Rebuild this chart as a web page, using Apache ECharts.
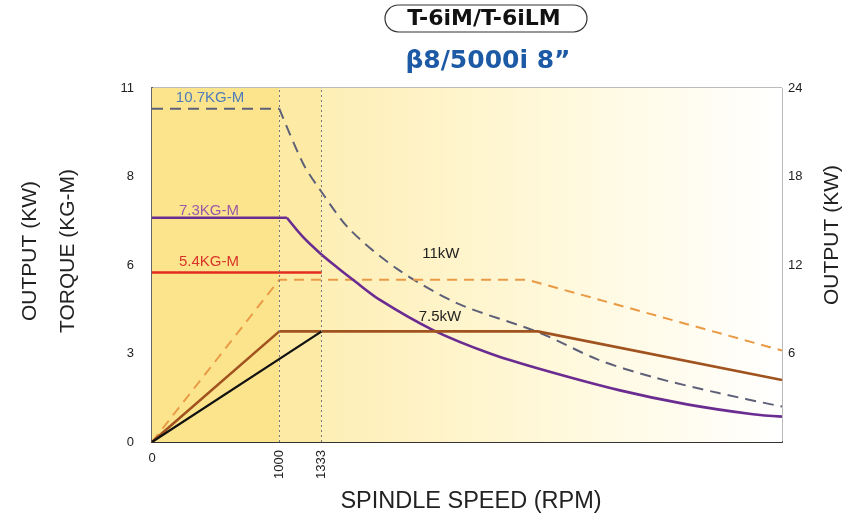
<!DOCTYPE html>
<html><head><meta charset="utf-8">
<script src="https://cdn.jsdelivr.net/npm/echarts@6/dist/echarts.min.js"></script>
<style>html,body{margin:0;padding:0;background:#fff}#c{width:842px;height:517px}</style>
</head><body><div id="c"></div>
<script>
// ---- data (y values in the right-axis scale, 0..24) ----
const rpmMax = 4950;
const torqueTickLabels = ['0', '3', '6', '8', '11'];
const rotatedRpmTicks = [1000, 1333];
const maxTorque = [[0,22.6],[1000,22.6],[1186,18.9],[1320,17.1],[1555,14.4],[1932,11.7],[2400,9.4],[3048,7.4],[3500,5.6],[3936,4.4],[4462,3.3],[4950,2.4]];
const contTorque = [[0,15.2],[1060,15.2],[1186,13.9],[1320,12.8],[1453,11.85],[1579,11.0],[1791,9.63],[2208,7.59],[2656,6.0],[3049,4.95],[3677,3.5],[4204,2.55],[4722,1.88],[4950,1.72]];
const torque54 = [[0,11.5],[1333,11.5]];
const power11 = [[0,0],[1000,11],[2950,11],[4950,6.2]];
const power75 = [[0,0],[1000,7.5],[3030,7.5],[4950,4.2]];
const power75low = [[0,0],[1333,7.5]];

const chart = echarts.init(document.getElementById('c'), null, {renderer: 'canvas'});
const FONT = 'Liberation Sans, Arial, sans-serif';
const TFONT = 'DejaVu Sans, sans-serif';
function note(text, coord, color) {
  return {coord: coord, symbol: 'circle', symbolSize: 1, itemStyle: {color: 'rgba(0,0,0,0)'},
    label: {show: true, position: 'inside', formatter: text, color: color, fontSize: 15, fontFamily: FONT}};
}
const option = {
  animation: false,
  backgroundColor: '#ffffff',
  grid: {left: 152, right: 60, top: 88, bottom: 75, show: true, borderColor: '#777', borderWidth: 1,
         containLabel: false, outerBoundsMode: 'none'},
  graphic: [
    {type: 'rect', x: 385, y: 5, shape: {width: 202, height: 27, r: 13.5},
     style: {fill: '#fff', stroke: '#333', lineWidth: 1.2}},
    {type: 'text', x: 484, y: 19, style: {text: 'T-6iM/T-6iLM', fill: '#111', align: 'center', verticalAlign: 'middle',
      font: 'bold 22px ' + TFONT}},
    {type: 'text', x: 488, y: 61, style: {text: 'β8/5000i 8”', fill: '#1d5aa5', align: 'center', verticalAlign: 'middle',
      font: 'bold 25px ' + TFONT}}
  ],
  xAxis: [
    {type: 'value', min: 0, max: rpmMax, position: 'bottom',
     axisLine: {show: true, lineStyle: {color: '#333', width: 2}},
     axisTick: {show: false}, splitLine: {show: false},
     axisLabel: {customValues: [0], margin: 10, fontSize: 13, color: '#222', fontFamily: FONT},
     name: 'SPINDLE SPEED (RPM)', nameLocation: 'middle', nameGap: 48,
     nameTextStyle: {fontSize: 23.5, color: '#222', fontFamily: FONT, padding: [0, 0, 0, 8]}},
    {type: 'value', min: 0, max: rpmMax, position: 'bottom',
     axisLine: {show: false}, axisTick: {show: false}, splitLine: {show: false},
     axisLabel: {customValues: rotatedRpmTicks, rotate: 90, margin: 8, fontSize: 13, color: '#222', fontFamily: FONT,
                 formatter: v => String(v)}}
  ],
  yAxis: [
    {type: 'value', min: 0, max: 24, interval: 6, position: 'left',
     axisLine: {show: true, lineStyle: {color: '#333', width: 2}},
     axisTick: {show: false}, splitLine: {show: false},
     axisLabel: {margin: 18, fontSize: 13, color: '#222', fontFamily: FONT,
                 formatter: v => torqueTickLabels[Math.round(v / 6)]},
     name: 'OUTPUT (KW)\nTORQUE (KG-M)', nameLocation: 'middle', nameRotate: 90, nameGap: 65,
     nameTextStyle: {fontSize: 21, lineHeight: 38, color: '#222', fontFamily: FONT, align: 'center', padding: [0, 0, 0, 28]}},
    {type: 'value', min: 0, max: 24, interval: 6, position: 'right',
     axisLine: {show: true, lineStyle: {color: '#777', width: 1.5}},
     axisTick: {show: false}, splitLine: {show: false},
     axisLabel: {margin: 6, fontSize: 13, color: '#222', fontFamily: FONT, showMinLabel: false,
                 formatter: v => (v === 0 ? '' : String(v))},
     name: 'OUTPUT (KW)', nameLocation: 'middle', nameRotate: 90, nameGap: 40,
     nameTextStyle: {fontSize: 21, color: '#222', fontFamily: FONT, padding: [0, 0, 0, 60]}}
  ],
  series: [
    {type: 'line', name: 'bg', data: torque54, z: 1, lineStyle: {opacity: 0}, symbol: 'none', silent: true,
     markArea: {silent: true, data: [
       [{xAxis: 0, yAxis: 0, itemStyle: {color: '#fce48d'}}, {xAxis: 1000, yAxis: 24}],
       [{xAxis: 1000, yAxis: 0, itemStyle: {color: '#fdeaa4'}}, {xAxis: 1333, yAxis: 24}],
       [{xAxis: 1333, yAxis: 0, itemStyle: {color: {type: 'linear', x: 0, y: 0, x2: 1, y2: 0,
          colorStops: [{offset: 0, color: '#feefb6'}, {offset: 0.5, color: '#fff8da'}, {offset: 1, color: '#ffffff'}]}}},
        {xAxis: rpmMax, yAxis: 24}]
     ]},
     markLine: {silent: true, symbol: 'none', label: {show: false},
       lineStyle: {type: [2, 3], color: '#777', width: 1}, data: [{xAxis: 1000}, {xAxis: 1333}]}},
    {type: 'line', name: 'max torque flat', data: maxTorque.slice(0, 2), z: 3, symbol: 'none',
     lineStyle: {color: '#5d6078', width: 2, type: [11, 7]},
     markPoint: {data: [note('10.7KG-M', [456, 23.3], '#4f7cb8')]}},
    {type: 'line', name: 'max torque curve', data: maxTorque.slice(1), z: 3, symbol: 'none',
     smooth: 0.3,
     lineStyle: {color: '#5d6078', width: 2, type: [11, 7]}},
    {type: 'line', name: 'cont torque flat', data: contTorque.slice(0, 2), z: 4, symbol: 'none',
     lineStyle: {color: '#6b2c91', width: 2.6},
     markPoint: {data: [note('7.3KG-M', [448, 15.7], '#9b5aa6')]}},
    {type: 'line', name: 'cont torque curve', data: contTorque.slice(1), z: 4, symbol: 'none',
     smooth: 0.3,
     lineStyle: {color: '#6b2c91', width: 2.6}},
    {type: 'line', name: '5.4', data: torque54, z: 4, symbol: 'none',
     lineStyle: {color: '#e42b1f', width: 2.5},
     markPoint: {data: [note('5.4KG-M', [448, 12.2], '#d8352a')]}},
    {type: 'line', name: '11kW', data: power11, z: 3, symbol: 'none',
     lineStyle: {color: '#e99a45', width: 2, type: [10, 7]},
     markPoint: {data: [note('11kW', [2270, 12.75], '#222')]}},
    {type: 'line', name: '7.5kW', data: power75, z: 4, symbol: 'none',
     lineStyle: {color: '#a0531f', width: 2.6},
     markPoint: {data: [note('7.5kW', [2262, 8.47], '#222')]}},
    {type: 'line', name: '7.5kW b', data: power75low, z: 4, symbol: 'none',
     lineStyle: {color: '#111', width: 2.2}}
  ]
};
chart.setOption(option);
</script>
</body></html>
